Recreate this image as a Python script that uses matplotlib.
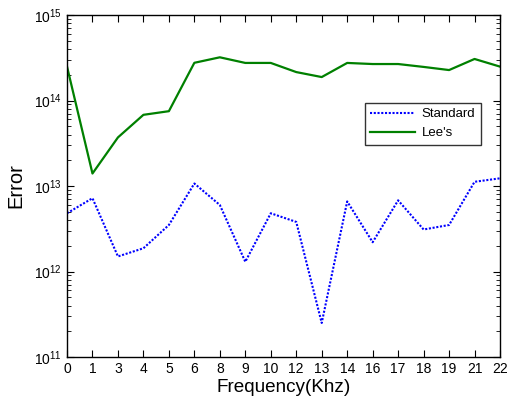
import matplotlib
matplotlib.use("Agg")
import matplotlib.pyplot as plt
from matplotlib.ticker import LogLocator, NullFormatter

plt.rcParams['font.family'] = ['Liberation Sans', 'DejaVu Sans']
plt.rcParams['mathtext.fontset'] = 'custom'
plt.rcParams['mathtext.rm'] = 'Liberation Sans'
plt.rcParams['mathtext.it'] = 'Liberation Sans:italic'

freq_labels = ['0', '1', '3', '4', '5', '6', '8', '9', '10', '12', '13', '14',
               '16', '17', '18', '19', '21', '22']
standard = [4.8e12, 7.2e12, 1.5e12, 1.87e12, 3.5e12, 1.07e13, 6.0e12, 1.3e12,
            4.8e12, 3.8e12, 2.5e11, 6.6e12, 2.2e12, 6.8e12, 3.1e12, 3.5e12,
            1.12e13, 1.23e13]
lees = [2.5e14, 1.4e13, 3.7e13, 6.8e13, 7.5e13, 2.76e14, 3.2e14, 2.75e14,
        2.75e14, 2.15e14, 1.88e14, 2.75e14, 2.67e14, 2.67e14, 2.47e14, 2.27e14,
        3.06e14, 2.49e14]

fig = plt.figure(figsize=(5.13, 4.01), dpi=100)
ax = fig.add_axes([0.1306, 0.1097, 0.8441, 0.8529])

x = list(range(len(freq_labels)))
ax.plot(x, standard, color='#0000ff', linestyle=(0, (1, 0.8)), linewidth=1.5,
        label='Standard')
ax.plot(x, lees, color='#008000', linestyle='-', linewidth=1.6, label="Lee's")

ax.set_yscale('log')
ax.set_ylim(1e11, 1e15)
ax.set_xlim(0, len(freq_labels) - 1)
ax.set_xticks(x)
ax.set_xticklabels(freq_labels)
ax.yaxis.set_major_locator(LogLocator(base=10, numticks=10))
ax.yaxis.set_minor_locator(LogLocator(base=10, subs=range(2, 10), numticks=50))
ax.yaxis.set_minor_formatter(NullFormatter())

ax.tick_params(axis='both', which='both', direction='in', top=True, right=True,
               labelsize=10, colors='black')
ax.tick_params(axis='both', which='major', length=5, width=0.8)
ax.tick_params(axis='y', which='minor', length=3, width=0.6)
for s in ax.spines.values():
    s.set_linewidth(1.0)

ax.set_xlabel('Frequency(Khz)', fontsize=13.6, labelpad=2)
ax.set_ylabel('Error', fontsize=14.5, labelpad=2)
ax.yaxis.set_label_coords(-0.095, 0.5)

leg = ax.legend(loc='upper left', bbox_to_anchor=(0.688, 0.743), frameon=True,
                fancybox=False, edgecolor='black', fontsize=9.5,
                handlelength=3.4, handletextpad=0.5, borderpad=0.4,
                labelspacing=0.5, borderaxespad=0)
leg.get_frame().set_linewidth(1.0)

fig.savefig('out.png', dpi=100)
